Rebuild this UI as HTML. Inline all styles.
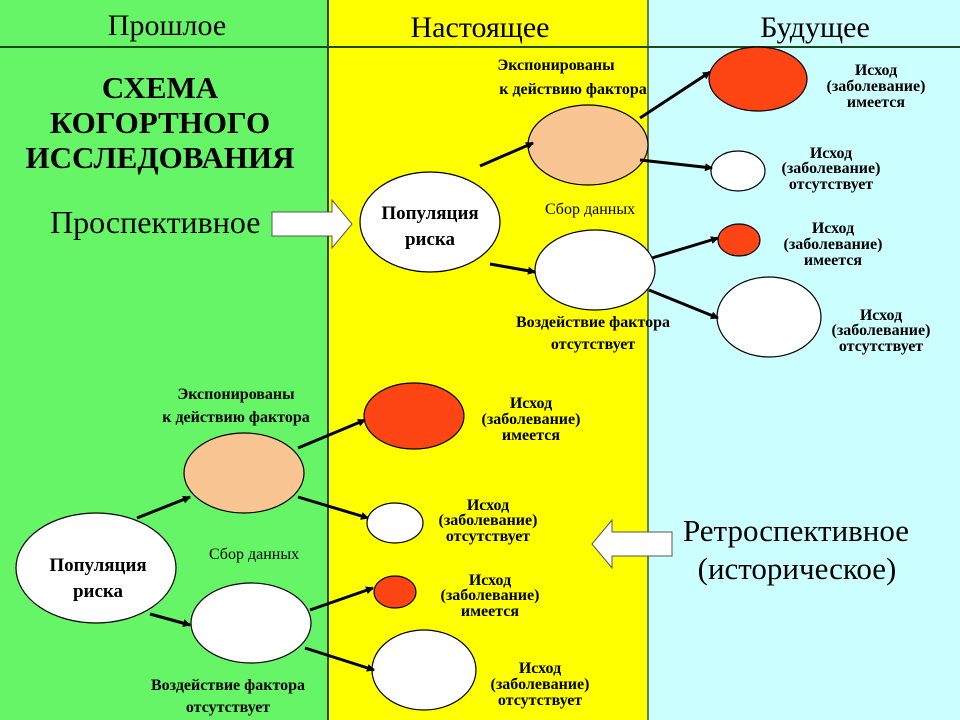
<!DOCTYPE html>
<html><head><meta charset="utf-8"><style>
html,body{margin:0;padding:0;width:960px;height:720px;overflow:hidden;background:#fff}
svg text{font-family:"Liberation Serif",serif;fill:#000}
.b{font-weight:bold;font-size:16px}
.p{font-weight:bold;font-size:19px}
</style></head><body>
<svg width="960" height="720" viewBox="0 0 960 720" xmlns="http://www.w3.org/2000/svg">
<defs><marker id="a" markerWidth="8" markerHeight="8" refX="7" refY="4" orient="auto" markerUnits="userSpaceOnUse"><path d="M0,0 L8,4 L0,8 z" fill="#000"/></marker></defs>
<rect x="0" y="0" width="328" height="720" fill="#66F566"/>
<rect x="328" y="0" width="320" height="720" fill="#FFFF00"/>
<rect x="648" y="0" width="312" height="720" fill="#CCFFFF"/>
<line x1="328" y1="0" x2="328" y2="720" stroke="#2a4a10" stroke-width="2"/>
<line x1="648" y1="0" x2="648" y2="720" stroke="#3a5a30" stroke-width="1.5"/>
<line x1="0" y1="47" x2="960" y2="47" stroke="#1d4a1d" stroke-width="2"/>
<text x="167" y="35" font-size="30" text-anchor="middle">Прошлое</text>
<text x="480" y="37" font-size="30" text-anchor="middle">Настоящее</text>
<text x="815" y="37" font-size="30" text-anchor="middle">Будущее</text>
<g font-size="31" font-weight="bold" text-anchor="middle">
<text x="160" y="98">СХЕМА</text><text x="160" y="133">КОГОРТНОГО</text><text x="160" y="168">ИССЛЕДОВАНИЯ</text></g>
<text x="50" y="233" font-size="32">Проспективное</text>
<path d="M272,212 H332 V200 L352,224 L332,248 V236 H272 Z" fill="#fff" stroke="#555" stroke-width="1"/>
<g stroke="#000" stroke-width="1.2">
<ellipse cx="430" cy="222" rx="70" ry="50" fill="#fff"/>
<ellipse cx="588" cy="145" rx="60" ry="40" fill="#F9C593"/>
<ellipse cx="595" cy="270" rx="60" ry="40" fill="#fff"/>
<ellipse cx="758" cy="79" rx="49" ry="32" fill="#FF4513"/>
<ellipse cx="738" cy="171" rx="27" ry="20" fill="#fff"/>
<ellipse cx="739" cy="240" rx="21" ry="16" fill="#FF4513"/>
<ellipse cx="769" cy="317" rx="52" ry="40" fill="#fff"/>
<ellipse cx="96" cy="568" rx="80" ry="55" fill="#fff"/>
<ellipse cx="244" cy="473" rx="60" ry="40" fill="#F9C593"/>
<ellipse cx="251" cy="623" rx="60" ry="40" fill="#fff"/>
<ellipse cx="414" cy="416" rx="50" ry="33" fill="#FF4513"/>
<ellipse cx="395" cy="523" rx="28" ry="20" fill="#fff"/>
<ellipse cx="395" cy="592" rx="21" ry="16" fill="#FF4513"/>
<ellipse cx="424" cy="670" rx="52" ry="40" fill="#fff"/>
</g>
<g stroke="#000" stroke-width="3" marker-end="url(#a)">
<line x1="480" y1="166" x2="533" y2="143"/>
<line x1="490" y1="264" x2="535" y2="272"/>
<line x1="640" y1="118" x2="710" y2="72"/>
<line x1="640" y1="160" x2="712" y2="168"/>
<line x1="652" y1="258" x2="718" y2="238"/>
<line x1="649" y1="290" x2="718" y2="318"/>
<line x1="137" y1="518" x2="190" y2="497"/>
<line x1="150" y1="614" x2="190" y2="625"/>
<line x1="298" y1="448" x2="365" y2="420"/>
<line x1="298" y1="497" x2="368" y2="518"/>
<line x1="310" y1="610" x2="373" y2="588"/>
<line x1="305" y1="648" x2="374" y2="670"/>
</g>
<g text-anchor="middle">
<text class="p" x="430" y="219">Популяция</text><text class="p" x="430" y="245">риска</text>
<text class="p" x="98" y="571">Популяция</text><text class="p" x="98" y="597">риска</text>
<text class="b" x="556" y="70">Экспонированы</text><text class="b" x="573" y="94">к действию фактора</text>
<text x="590" y="214" font-size="16" fill="#333">Сбор данных</text>
<text class="b" x="593" y="327">Воздействие фактора</text><text class="b" x="593" y="349">отсутствует</text>
<text class="b" x="236" y="399">Экспонированы</text><text class="b" x="236" y="422">к действию фактора</text>
<text x="254" y="559" font-size="16" fill="#333">Сбор данных</text>
<text class="b" x="228" y="690">Воздействие фактора</text><text class="b" x="228" y="712">отсутствует</text>
<text class="b" x="876" y="75">Исход</text><text class="b" x="876" y="91">(заболевание)</text><text class="b" x="876" y="107">имеется</text>
<text class="b" x="831" y="158">Исход</text><text class="b" x="831" y="173">(заболевание)</text><text class="b" x="831" y="189">отсутствует</text>
<text class="b" x="833" y="233">Исход</text><text class="b" x="833" y="249">(заболевание)</text><text class="b" x="833" y="265">имеется</text>
<text class="b" x="881" y="320">Исход</text><text class="b" x="881" y="335">(заболевание)</text><text class="b" x="881" y="351">отсутствует</text>
<text class="b" x="531" y="408">Исход</text><text class="b" x="531" y="424">(заболевание)</text><text class="b" x="531" y="440">имеется</text>
<text class="b" x="488" y="510">Исход</text><text class="b" x="488" y="525">(заболевание)</text><text class="b" x="488" y="541">отсутствует</text>
<text class="b" x="490" y="585">Исход</text><text class="b" x="490" y="600">(заболевание)</text><text class="b" x="490" y="616">имеется</text>
<text class="b" x="540" y="673">Исход</text><text class="b" x="540" y="689">(заболевание)</text><text class="b" x="540" y="705">отсутствует</text>
<text x="796" y="541" font-size="31">Ретроспективное</text>
<text x="797" y="579" font-size="31">(историческое)</text>
</g>
<path d="M672,532 H612 V520 L592,544 L612,568 V556 H672 Z" fill="#fff" stroke="#555" stroke-width="1"/>
</svg>
</body></html>
